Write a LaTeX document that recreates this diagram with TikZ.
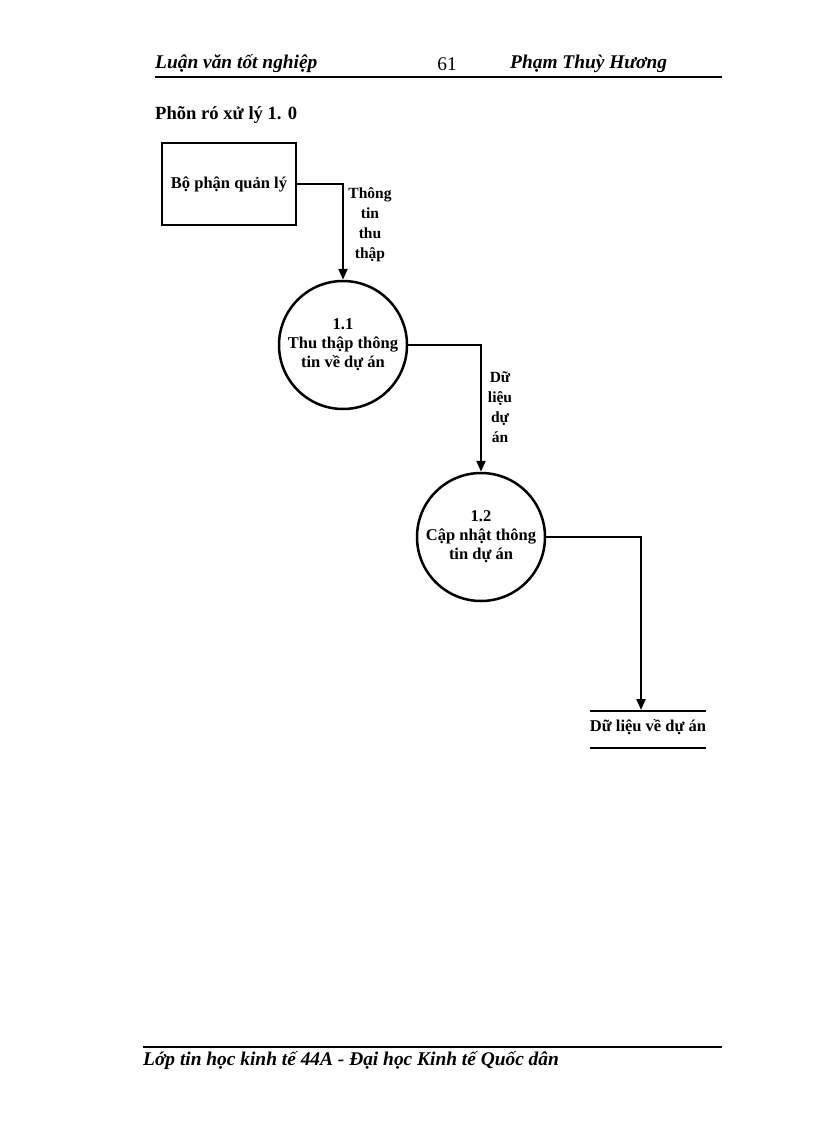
\documentclass[tikz,border=0pt]{standalone}
\usepackage{fontspec}
\setmainfont{Liberation Serif}
\usetikzlibrary{arrows.meta}
\begin{document}
\begin{tikzpicture}[x=1pt,y=-1pt,
  txt/.style={font=\bfseries\fontsize{16.5}{19}\selectfont,align=center,inner sep=0pt},
  hdr/.style={font=\bfseries\itshape\fontsize{19.4}{22}\selectfont,anchor=west,inner sep=0pt},
  proc/.style={draw,circle,line width=2.5pt,minimum size=128pt,txt},
  flow/.style={line width=2.2pt,-{Triangle[length=11pt,width=9pt]}}]
\useasboundingbox (0,0) rectangle (816,1123);
\node[hdr] (h1) at (155,64) {Luận văn tốt nghiệp};
\node[font=\fontsize{19.4}{22}\selectfont,inner sep=0pt] (h2) at (447,64) {61};
\node[hdr] (h3) at (510,64) {Phạm Thuỳ Hương};
\draw[line width=2pt] (155,77) -- (722,77);
\node[inner sep=0pt,anchor=west,font=\bfseries\fontsize{18.6}{20}\selectfont] (t) at (155,115) {Phõn ró xử lý 1. 0};
\node[draw,line width=2.5pt,minimum width=134pt,minimum height=82pt,txt] (e) at (229,184) {Bộ phận quản lý};
\node[proc] (p1) at (343,345) {1.1\\Thu thập thông\\tin về dự án};
\node[proc] (p2) at (481,537) {1.2\\Cập nhật thông\\tin dự án};
\coordinate (s) at (641,710);
\draw[line width=2pt] (590,711) -- (706,711);
\draw[line width=2pt] (590,748) -- (706,748);
\node[txt] (d) at (648,727) {Dữ liệu về dự án};
\draw[flow] (e.east |- 0,184) -- (343,184) -- (p1.north);
\draw[flow] (p1.east) -- (481,345) -- (p2.north);
\draw[flow] (p2.east) -- (641,537) -- (s);
\node[txt,font=\bfseries\fontsize{15.5}{20}\selectfont] (l1) at (370,225) {Thông\\tin\\thu\\thập};
\node[txt,font=\bfseries\fontsize{15.5}{20}\selectfont] (l2) at (500,407) {Dữ\\liệu\\dự\\án};
\draw[line width=2pt] (143,1047) -- (722,1047);
\node[hdr] (f) at (143,1061) {Lớp tin học kinh tế 44A - Đại học Kinh tế Quốc dân};
\end{tikzpicture}
\end{document}
